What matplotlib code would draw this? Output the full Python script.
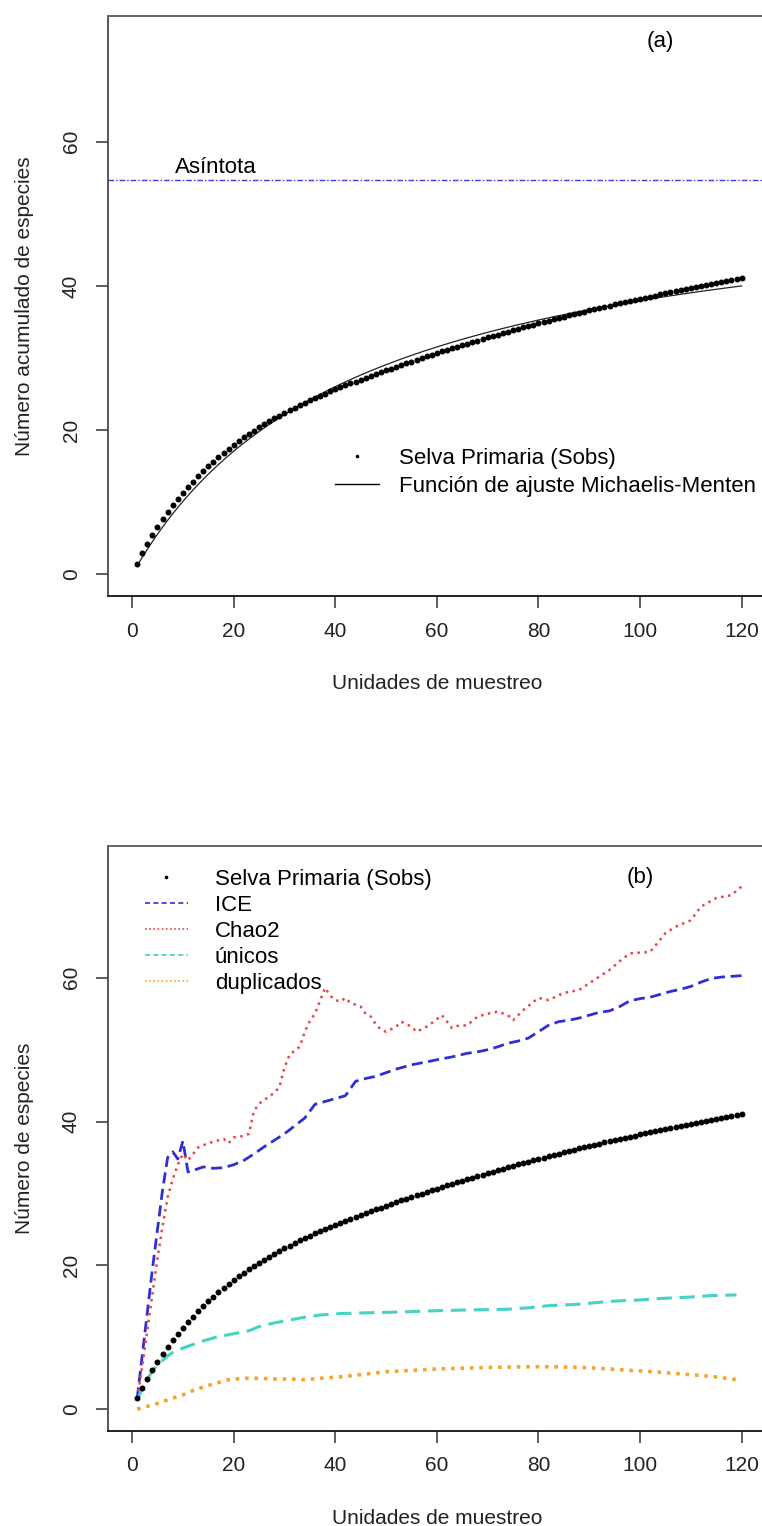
import matplotlib
matplotlib.use("Agg")
import numpy as np
import matplotlib.pyplot as plt
from matplotlib.lines import Line2D

plt.rcParams['font.family'] = ['Liberation Sans', 'DejaVu Sans']

# unidades de muestreo y especies observadas (Sobs)
unidades = list(range(1, 121))
sobs = [1.50, 2.90, 4.20, 5.42, 6.56, 7.63, 8.63, 9.57, 10.46, 11.30,
        12.10, 12.87, 13.61, 14.32, 15.00, 15.65, 16.27, 16.86, 17.42, 17.96,
        18.48, 18.98, 19.46, 19.92, 20.37, 20.80, 21.22, 21.62, 22.01, 22.39,
        22.76, 23.12, 23.47, 23.81, 24.14, 24.46, 24.77, 25.07, 25.36, 25.64,
        25.92, 26.20, 26.47, 26.74, 27.01, 27.27, 27.53, 27.79, 28.04, 28.29,
        28.54, 28.79, 29.03, 29.27, 29.51, 29.75, 29.98, 30.21, 30.44, 30.67,
        30.90, 31.12, 31.34, 31.56, 31.78, 32.00, 32.21, 32.42, 32.63, 32.84,
        33.05, 33.25, 33.45, 33.65, 33.85, 34.05, 34.24, 34.43, 34.62, 34.81,
        35.00, 35.18, 35.36, 35.54, 35.72, 35.90, 36.08, 36.26, 36.43, 36.60,
        36.77, 36.94, 37.10, 37.26, 37.42, 37.58, 37.74, 37.90, 38.06, 38.21,
        38.36, 38.51, 38.66, 38.81, 38.96, 39.10, 39.24, 39.38, 39.52, 39.66,
        39.80, 39.94, 40.08, 40.22, 40.36, 40.50, 40.64, 40.78, 40.92, 41.06]

# parametros del ajuste Michaelis-Menten
asintota = 54.65
km = 44.0

# estimadores no parametricos
ice_x = [1, 2, 3, 4, 5, 6, 7, 8, 9, 10, 11, 12, 14, 16, 18, 20, 22, 24, 26, 28,
         30, 32, 34, 36, 38, 40, 42, 44, 46, 48, 50, 52, 55, 58, 60, 63, 66,
         68, 70, 72, 74, 76, 78, 80, 82, 84, 86, 88, 90, 92, 94, 96, 98, 100,
         102, 104, 106, 108, 110, 112, 114, 116, 118, 120]
ice_y = [1.5, 7.5, 13.5, 19.5, 25.0, 30.5, 35.0, 35.8, 34.8, 37.3, 33.0, 33.2,
         33.7, 33.5, 33.6, 34.0, 34.6, 35.5, 36.5, 37.4, 38.3, 39.4, 40.5, 42.4,
         42.8, 43.2, 43.6, 45.6, 46.0, 46.3, 46.8, 47.3, 47.9, 48.3, 48.6, 49.0,
         49.5, 49.7, 50.0, 50.4, 50.9, 51.2, 51.6, 52.5, 53.4, 53.9, 54.1, 54.4,
         54.8, 55.2, 55.4, 56.0, 56.8, 57.1, 57.3, 57.7, 58.1, 58.4, 58.8, 59.4,
         59.9, 60.1, 60.2, 60.3]

chao2_x = [1, 2, 3, 4, 5, 6, 7, 8, 9, 10, 11, 12, 13, 15, 17, 18, 19, 20, 22,
           23, 24, 25, 26, 28, 29, 30, 31, 33, 34, 35, 36, 37, 38, 39, 40, 41,
           42, 43, 45, 46, 47, 48, 49, 50, 52, 53, 55, 56, 58, 59, 61, 63, 64,
           66, 68, 70, 72, 74, 75, 77, 80, 82, 85, 88, 91, 94, 96, 98, 102,
           105, 107, 110, 112, 115, 118, 120]
chao2_y = [1.5, 6.0, 11.0, 16.0, 21.0, 25.5, 29.5, 32.0, 34.0, 35.5, 34.6, 35.5,
           36.4, 37.0, 37.4, 37.6, 37.0, 37.8, 38.0, 38.3, 41.5, 42.5, 43.0,
           44.0, 44.8, 47.5, 49.3, 50.4, 52.5, 54.0, 55.0, 56.8, 58.6, 57.5,
           56.9, 56.7, 57.2, 56.5, 56.0, 55.0, 54.6, 53.5, 52.8, 52.5, 53.2,
           53.9, 53.2, 52.5, 53.2, 53.7, 54.8, 53.0, 53.3, 53.4, 54.6, 55.0,
           55.3, 54.8, 54.1, 55.5, 57.2, 56.9, 57.9, 58.3, 59.7, 61.1, 62.3,
           63.4, 63.6, 66.2, 67.1, 68.0, 69.9, 71.1, 71.5, 72.7]

unicos_x = [1, 2, 3, 4, 5, 6, 7, 8, 10, 12, 14, 17, 20, 23, 25, 28, 31, 34, 37,
            41, 46, 52, 60, 66, 74, 78, 82, 88, 94, 100, 104, 110, 114, 119]
unicos_y = [1.3, 2.8, 4.2, 5.3, 6.2, 6.8, 7.4, 7.9, 8.5, 9.0, 9.5, 10.1, 10.5,
            10.9, 11.5, 12.0, 12.4, 12.8, 13.1, 13.3, 13.4, 13.5, 13.7, 13.8,
            13.9, 14.1, 14.4, 14.6, 15.0, 15.2, 15.4, 15.6, 15.8, 15.9]

duplicados_x = [1, 3, 5, 7, 10, 12, 14, 17, 19, 22, 25, 28, 31, 34, 37, 41, 45,
                50, 55, 60, 65, 70, 77, 83, 89, 94, 98, 103, 108, 112, 116, 120]
duplicados_y = [0.0, 0.4, 0.8, 1.3, 2.0, 2.6, 3.1, 3.7, 4.1, 4.3, 4.3, 4.2, 4.2,
                4.1, 4.3, 4.5, 4.8, 5.2, 5.4, 5.6, 5.7, 5.8, 5.9, 5.9, 5.8, 5.6,
                5.4, 5.2, 4.9, 4.7, 4.4, 4.0]

xticks = [0, 20, 40, 60, 80, 100, 120]
yticks = [0, 20, 40, 60]


def estilo_r(ax, ylim, ylabel, frac_h):
    ax.set_xlim(-4.75, 124.8)
    ax.set_ylim(*ylim)
    ax.set_xticks(xticks)
    ax.set_yticks(yticks)
    ax.tick_params(direction='out', length=8.6, width=1.1, colors='#333333',
                   labelsize=15, labelcolor='#222222')
    ax.tick_params(axis='x', pad=10)
    ax.tick_params(axis='y', pad=11, labelrotation=90)
    for t in ax.get_yticklabels():
        t.set_va('center')
    ax.spines['left'].set_color('#555555')
    ax.spines['top'].set_color('#666666')
    ax.spines['bottom'].set_color('#222222')
    for s in ax.spines.values():
        s.set_linewidth(1.4)
    ax.set_xlabel('Unidades de muestreo', fontsize=15, color='#222222')
    ax.xaxis.set_label_coords(0.5, -78 / frac_h)
    ax.set_ylabel(ylabel, fontsize=15, color='#222222')
    ax.yaxis.set_label_coords(-0.112, 0.5)


fig = plt.figure(figsize=(7.62, 15.26), dpi=100)
ax1 = fig.add_axes([0.1417, 0.6094, 0.8635, 0.3801])
ax2 = fig.add_axes([0.1417, 0.0625, 0.8635, 0.3832])

# (a) curva de acumulacion con ajuste Michaelis-Menten
xs = np.linspace(1, 120, 300)
ax1.axhline(asintota, color='#3a3ad8', lw=1.0, ls=(0, (4, 1.5, 1, 1.5)))
ax1.plot(xs, asintota * xs / (km + xs), color='#222222', lw=0.9)
ax1.plot(unidades, sobs, 'o', color='black', ms=4.3, mec='none')
ax1.text(8.5, asintota + 0.3, 'Asíntota', fontsize=16, va='bottom', ha='left')
ax1.text(104, 73.8, '(a)', fontsize=16, ha='center', va='center')
h1 = [Line2D([], [], color='black', marker='o', ms=1.6, ls='none'),
      Line2D([], [], color='black', lw=1.0)]
ax1.legend(h1, ['Selva Primaria (Sobs)', 'Función de ajuste Michaelis-Menten'],
           loc='upper left', bbox_to_anchor=(0.345, 0.256), frameon=False,
           fontsize=16, handlelength=2.0, handletextpad=0.9,
           labelspacing=0.33, borderpad=0, borderaxespad=0)
estilo_r(ax1, (-3.0, 77.4), 'Número acumulado de especies', 580)

# (b) estimadores de riqueza
ax2.plot(ice_x, ice_y, color='#2f2fd2', lw=2.0, ls=(0, (4, 2)))
ax2.plot(chao2_x, chao2_y, color='#e8454a', lw=1.8, ls=(0, (1, 1.8)))
ax2.plot(unicos_x, unicos_y, color='#45d3c3', lw=2.2, ls=(0, (5, 2.5)))
ax2.plot(duplicados_x, duplicados_y, color='#f4a52a', lw=2.6, ls=(0, (1, 1.6)))
ax2.plot(unidades, sobs, 'o', color='black', ms=4.3, mec='none')
ax2.text(100, 73.9, '(b)', fontsize=16, ha='center', va='center')
h2 = [Line2D([], [], color='black', marker='o', ms=1.6, ls='none'),
      Line2D([], [], color='#2f2fd2', lw=1.2, ls=(0, (3, 2))),
      Line2D([], [], color='#e8454a', lw=1.2, ls=(0, (1, 1.5))),
      Line2D([], [], color='#45d3c3', lw=1.2, ls=(0, (3, 2))),
      Line2D([], [], color='#f4a52a', lw=1.2, ls=(0, (1, 1.5)))]
ax2.legend(h2, ['Selva Primaria (Sobs)', 'ICE', 'Chao2', 'únicos', 'duplicados'],
           loc='upper left', bbox_to_anchor=(0.056, 0.961), frameon=False,
           fontsize=16, handlelength=1.95, handletextpad=1.2,
           labelspacing=0.23, borderpad=0, borderaxespad=0)
estilo_r(ax2, (-2.98, 78.35), 'Número de especies', 584.7)

fig.savefig('out.png', dpi=100)
